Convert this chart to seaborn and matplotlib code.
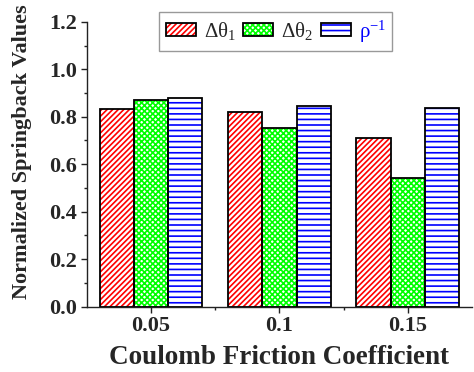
import matplotlib
matplotlib.use("Agg")
import matplotlib.pyplot as plt
from matplotlib.patches import Patch, Rectangle
from matplotlib.legend_handler import HandlerTuple
from matplotlib.ticker import MultipleLocator, FixedLocator
import seaborn as sns
import pandas as pd

# Springback measures for each Coulomb friction coefficient
friction = ["0.05", "0.1", "0.15"]
delta_theta1 = [0.832, 0.820, 0.710]
delta_theta2 = [0.871, 0.751, 0.542]
rho_inv = [0.881, 0.846, 0.838]

series_names = ["dt1", "dt2", "rho"]
series_labels = ["Δθ$_{1}$", "Δθ$_{2}$", "ρ$^{-1}$"]
series_colors = ["#ff0000", "#00ff00", "#0000ff"]
series_hatches = ["//////", "xxxxxx", "---"]

df = pd.DataFrame({
    "friction": friction * 3,
    "value": delta_theta1 + delta_theta2 + rho_inv,
    "series": [s for s in series_names for _ in friction],
})

sns.set_style("ticks")
plt.rcParams["font.family"] = ["Liberation Serif", "DejaVu Serif"]
plt.rcParams["mathtext.fontset"] = "custom"
plt.rcParams["mathtext.rm"] = "Liberation Serif"
plt.rcParams["mathtext.it"] = "Liberation Serif"
plt.rcParams["hatch.linewidth"] = 1.2

fig = plt.figure(figsize=(4.74, 3.72), dpi=100)
ax = fig.add_axes([0.183, 0.1755, 0.813, 0.766])

sns.barplot(data=df, x="friction", y="value", hue="series", order=friction,
            hue_order=series_names, width=0.8, ax=ax, legend=False,
            saturation=1)

# hatched fill in the series colour, black outline on top
for cont, col, hat in zip(ax.containers, series_colors, series_hatches):
    for bar in cont:
        bar.set_facecolor("white")
        bar.set_edgecolor(col)
        bar.set_hatch(hat)
        bar.set_linewidth(0)
        ax.add_patch(Rectangle(bar.get_xy(), bar.get_width(), bar.get_height(),
                               fill=False, edgecolor="black", linewidth=1.3,
                               zorder=bar.get_zorder() + 0.1))

ax.set_xlim(-0.5, 2.5)
ax.set_ylim(0, 1.2)
ax.yaxis.set_minor_locator(MultipleLocator(0.1))
ax.xaxis.set_minor_locator(FixedLocator([0.5, 1.5]))
ax.set_yticks([0, 0.2, 0.4, 0.6, 0.8, 1.0, 1.2])
ax.set_yticklabels(["0.0", "0.2", "0.4", "0.6", "0.8", "1.0", "1.2"])

for s in ["top", "right"]:
    ax.spines[s].set_visible(False)
for s in ["left", "bottom"]:
    ax.spines[s].set_linewidth(1.0)
    ax.spines[s].set_color("#222222")

ax.tick_params(axis="both", which="major", direction="out", length=4, width=1,
               color="#222222", labelsize=16, pad=3)
ax.tick_params(axis="both", which="minor", direction="out", length=2.5, width=1,
               color="#222222")
for lab in ax.get_xticklabels() + ax.get_yticklabels():
    lab.set_fontweight("bold")

ax.set_xlabel("Coulomb Friction Coefficient", fontsize=19.5, fontweight="bold",
              labelpad=6)
ax.set_ylabel("Normalized Springback Values", fontsize=16, fontweight="bold")
ax.yaxis.set_label_coords(-0.142, 0.543)

handles = []
for col, hat in zip(series_colors, series_hatches):
    fill = Patch(facecolor="white", edgecolor=col, hatch=hat, linewidth=0)
    edge = Patch(facecolor="none", edgecolor="black", linewidth=1.3)
    handles.append((fill, edge))
leg = ax.legend(handles, series_labels, handler_map={tuple: HandlerTuple(ndivide=1, pad=0)},
                loc="upper center", bbox_to_anchor=(0.491, 1.034), ncol=3,
                fontsize=15, frameon=True, fancybox=False, edgecolor="#808080",
                handlelength=1.45, handleheight=0.58, handletextpad=0.38,
                columnspacing=0.35, borderpad=0.3, borderaxespad=0)
leg.get_frame().set_linewidth(1.0)
leg.get_texts()[2].set_color("#0000ff")

fig.savefig("out.png", dpi=100)
